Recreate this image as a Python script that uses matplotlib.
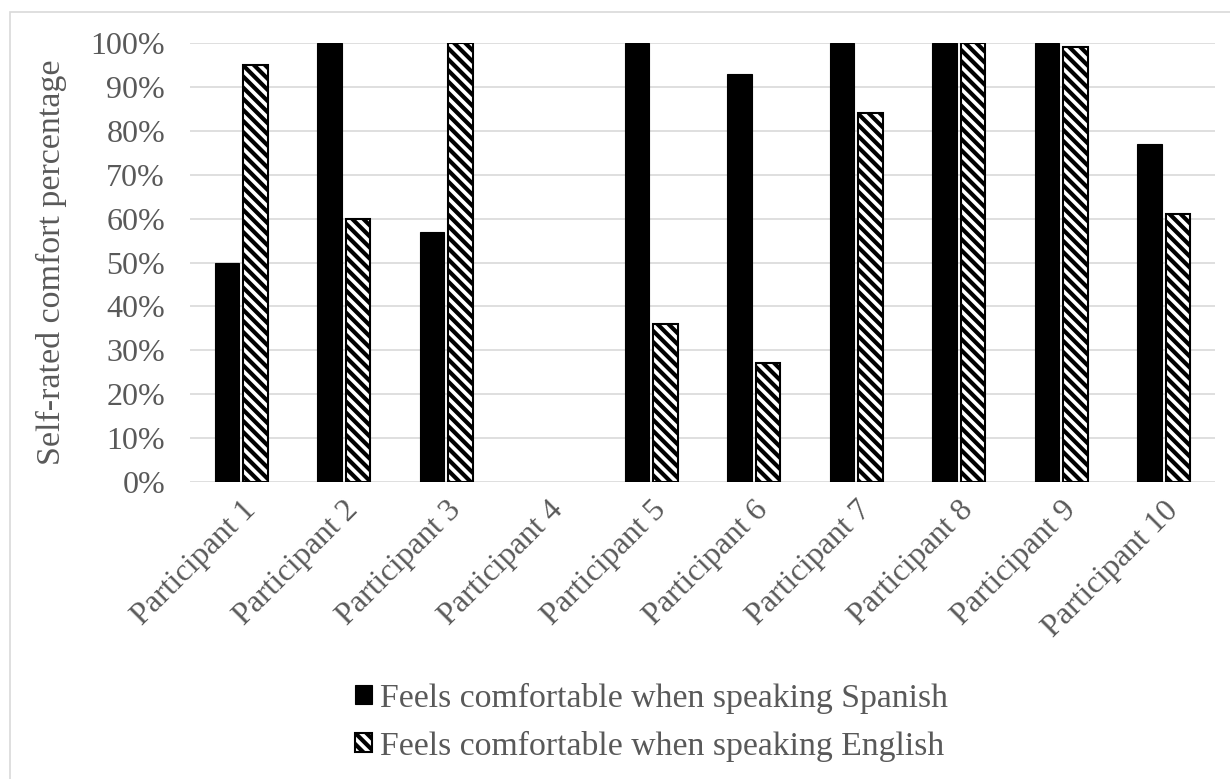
import matplotlib.pyplot as plt
import matplotlib.patches as mpatches
import numpy as np

participants = ["Participant %d" % i for i in range(1, 11)]
spanish = [50, 100, 57, 0, 100, 93, 100, 100, 100, 77]
english = [95, 60, 100, 0, 36, 27, 84, 100, 99, 61]
yticks = [0, 10, 20, 30, 40, 50, 60, 70, 80, 90, 100]

txt = "#595959"
plt.rcParams['font.family'] = ['Liberation Serif', 'DejaVu Serif']
plt.rcParams['hatch.linewidth'] = 3.0
plt.rcParams['hatch.color'] = 'black'

fig = plt.figure(figsize=(12.3, 7.79), dpi=100)
W, H = 1230, 779
# plot area in pixels
ax = fig.add_axes([190 / W, 1 - 482 / H, 1025 / W, 439 / H])

# light outer frame
fig.patches.append(mpatches.Rectangle((10 / W, -0.1), 1.2, 1 - 12 / H + 0.1,
                                      transform=fig.transFigure, fill=False,
                                      edgecolor="#d9d9d9", lw=1.2))

x = np.arange(len(participants))
bw = 0.236
off = 0.139
# no outline for empty bars
lw_sp = [0.8 if v > 0 else 0 for v in spanish]
lw_en = [1.5 if v > 0 else 0 for v in english]
ax.bar(x - off, spanish, bw, color="black", edgecolor="black", lw=lw_sp,
       label="Feels comfortable when speaking Spanish", zorder=3)
ax.bar(x + off, english, bw, color="white", edgecolor="black", lw=lw_en,
       hatch="\\\\\\", label="Feels comfortable when speaking English", zorder=3)

ax.set_xlim(-0.5, len(participants) - 0.5)
ax.set_ylim(0, 100)
ax.set_yticks(yticks)
ax.set_yticklabels(["%d%%" % v for v in yticks])
ax.set_xticks(x)
ax.set_xticklabels(participants, rotation=45, ha="right", rotation_mode="anchor")
ax.tick_params(length=0, labelsize=23, colors=txt, pad=18)
ax.tick_params(axis="x", pad=10)
ax.yaxis.grid(True, color="#d9d9d9", lw=1.2, zorder=0)
for s in ax.spines.values():
    s.set_visible(False)
ax.set_ylabel("Self-rated comfort percentage", fontsize=24.5, color=txt, labelpad=17)

fig.legend(loc="center left", bbox_to_anchor=(338 / W, 1 - 722 / H), frameon=False,
           fontsize=24.3, labelcolor=txt, handlelength=0.5, handleheight=0.5,
           handletextpad=0.25, labelspacing=0.5, borderpad=0)

fig.savefig("out.png", dpi=100)
